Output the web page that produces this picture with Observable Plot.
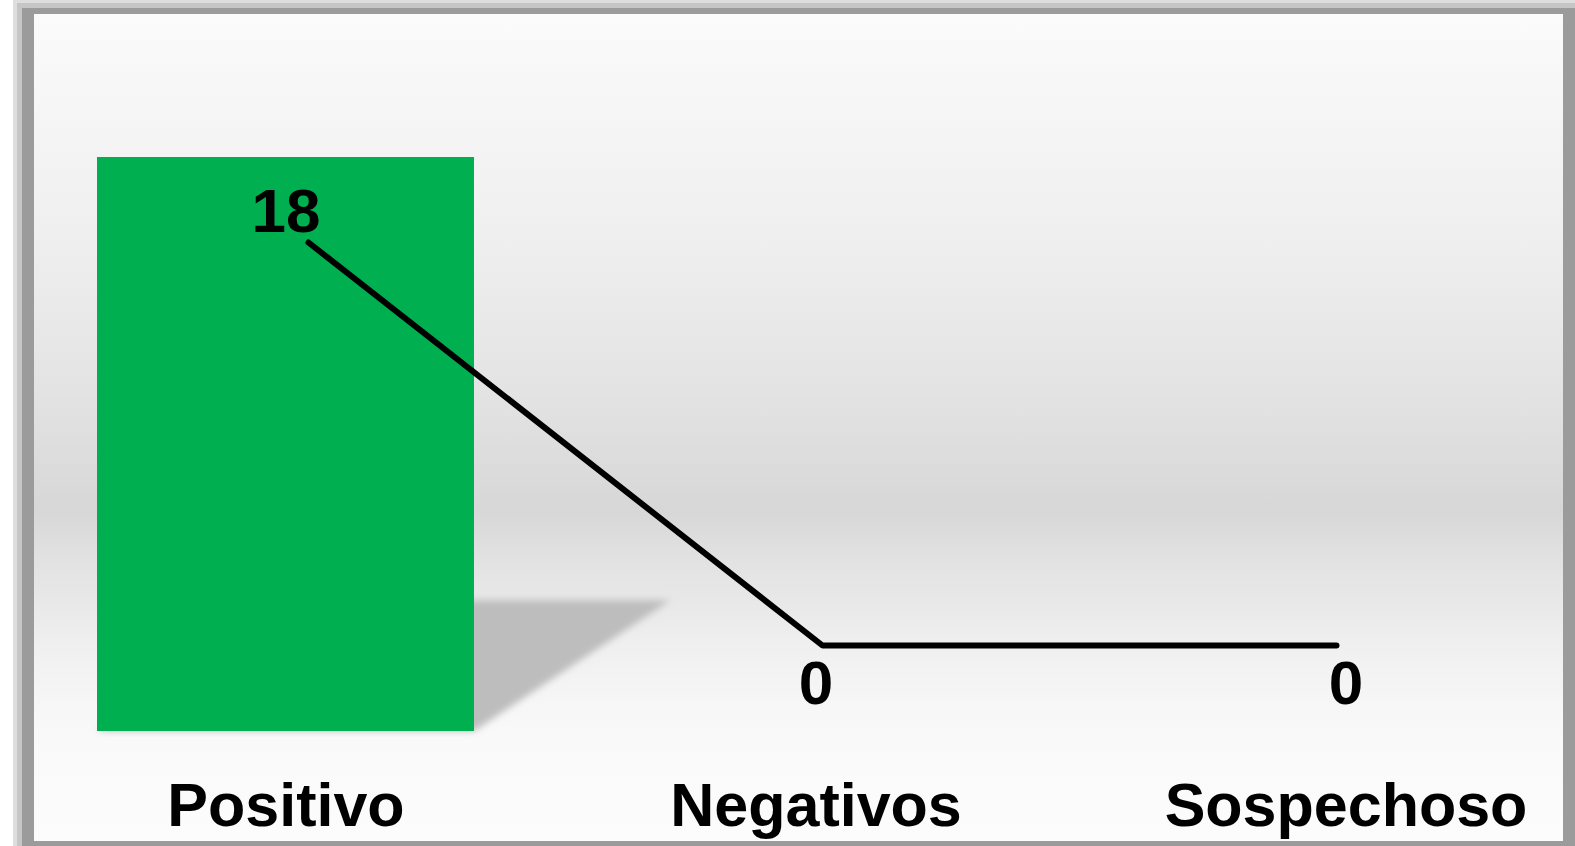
<!DOCTYPE html>
<html>
<head>
<meta charset="utf-8">
<script src="https://cdn.jsdelivr.net/npm/d3@7"></script>
<script src="https://cdn.jsdelivr.net/npm/@observablehq/plot@0.6"></script>
<style>
  html, body { margin: 0; padding: 0; background: #fff; width: 1575px; height: 846px; overflow: hidden; }
  #stage { position: relative; width: 1575px; height: 846px; }
  #stage > div { position: absolute; }
</style>
</head>
<body>
<div id="stage">
  <div style="left:13px;top:0;width:1562px;height:846px;background:#dedede"></div>
  <div style="left:17px;top:3px;width:1558px;height:843px;background:#c6c6c6"></div>
  <div style="left:22px;top:8px;width:1553px;height:838px;background:#9b9b9b"></div>
  <div style="left:34px;top:14px;width:1529px;height:827px;background:linear-gradient(to bottom,#fbfbfb 0%,#f4f4f4 15%,#f1f1f1 23%,#ececec 32%,#e3e3e3 46%,#d7d7d7 60%,#e2e2e2 66%,#e8e8e8 71%,#efefef 76%,#f6f6f6 83%,#f9f9f9 87%,#fcfcfc 100%)"></div>
</div>
<script>
// ---- data ----
const categories = ["Positivo", "Negativos", "Sospechoso"];
const barValues = [18, 0, 0];
const lineValues = [18, 0, 0];
const labelValues = [18, 0, 0];

const barData = categories.map((c, i) => ({cat: c, v: barValues[i]}));
const lineData = categories.map((c, i) => ({cat: c, v: lineValues[i]}));
const labelData = categories.map((c, i) => ({cat: c, v: labelValues[i]}));

const W = 1575, H = 846;
const FONT = "'Liberation Sans', Arial, sans-serif";
const layerStyle = {position: "absolute", left: "0px", top: "0px", background: "transparent", overflow: "visible"};
const stage = document.getElementById("stage");

// ---- layer A: bars + category axis ----
const plotA = Plot.plot({
  width: W, height: H,
  marginTop: 157, marginBottom: 115, marginLeft: 96, marginRight: 39,
  style: layerStyle,
  x: {type: "band", domain: categories, paddingInner: 0.288, paddingOuter: 0, label: null},
  y: {domain: [0, 18], axis: null},
  marks: [
    Plot.barY(barData, {x: "cat", y: "v", fill: "#00b050"}),
    Plot.axisX({tickSize: 0, tickPadding: 51, fontSize: 61, fontWeight: "bold",
                fontFamily: FONT, fill: "#000", label: null})
  ]
});

// shadow behind bars, computed through the plot's scales
{
  const sx = plotA.scale("x"), sy = plotA.scale("y");
  const ns = "http://www.w3.org/2000/svg";
  const defs = document.createElementNS(ns, "defs");
  defs.innerHTML = '<filter id="shblur" x="-20%" y="-40%" width="140%" height="180%"><feGaussianBlur stdDeviation="3.5"/></filter>';
  plotA.insertBefore(defs, plotA.firstChild);
  const g = document.createElementNS(ns, "g");
  g.setAttribute("filter", "url(#shblur)");
  barData.filter(d => d.v > 0).forEach(d => {
    const x0 = sx.apply(d.cat), x1 = x0 + sx.bandwidth;
    const yb = sy.apply(0), yt = sy.apply(d.v);
    const h = yb - yt, sh = 0.228 * h, shift = 0.342 * h;
    const p = document.createElementNS(ns, "polygon");
    p.setAttribute("points", `${x0},${yb} ${x0 + shift},${yb - sh} ${x1 + shift},${yb - sh} ${x1},${yb}`);
    p.setAttribute("fill", "#bdbdbd");
    g.appendChild(p);
  });
  const barG = plotA.querySelector("g[aria-label='bar']");
  barG.parentNode.insertBefore(g, barG);
}
stage.appendChild(plotA);

// ---- layer B: line (secondary axis) ----
const plotB = Plot.plot({
  width: W, height: H,
  marginTop: 242, marginBottom: 201, marginLeft: 307, marginRight: 239,
  style: layerStyle,
  x: {type: "point", domain: categories, padding: 0, axis: null},
  y: {domain: [0, 18], axis: null},
  marks: [
    Plot.line(lineData, {x: "cat", y: "v", stroke: "#000", strokeWidth: 6,
                         strokeLinecap: "round", strokeLinejoin: "miter"})
  ]
});
stage.appendChild(plotB);

// ---- layer C: value labels ----
const plotC = Plot.plot({
  width: W, height: H,
  marginTop: 242, marginBottom: 201, marginLeft: 96, marginRight: 39,
  style: layerStyle,
  x: {type: "band", domain: categories, paddingInner: 0.288, paddingOuter: 0, axis: null},
  y: {domain: [0, 18], axis: null},
  marks: [
    Plot.text(labelData.filter(d => d.v > 0), {x: "cat", y: "v", text: d => String(d.v),
      lineAnchor: "bottom", dy: -11, fontSize: 62, fontWeight: "bold", fontFamily: FONT, fill: "#000"}),
    Plot.text(labelData.filter(d => d.v <= 0), {x: "cat", y: "v", text: d => String(d.v),
      lineAnchor: "bottom", dy: 58, fontSize: 62, fontWeight: "bold", fontFamily: FONT, fill: "#000"})
  ]
});
stage.appendChild(plotC);
</script>
</body>
</html>
